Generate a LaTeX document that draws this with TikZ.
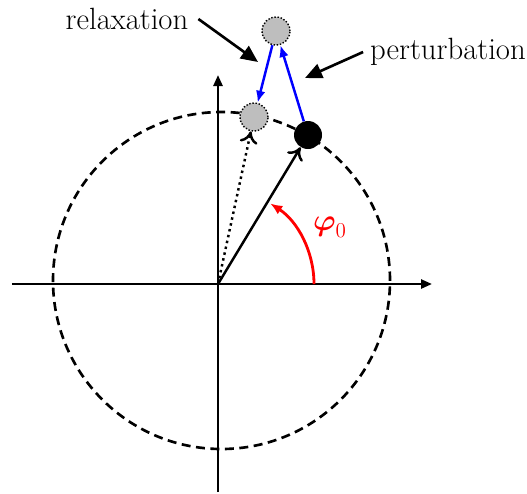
\documentclass[tikz,border=0pt]{standalone}
\usepackage{xcolor}
\usepackage{tikz}
\usetikzlibrary{arrows.meta}
\usepackage{amsmath}
\usepackage{amssymb}
\definecolor{grisPoint}{RGB}{190, 190, 190}
\definecolor{bleuFleche}{RGB}{0, 0, 255}
\definecolor{rougeAngle}{RGB}{255, 0, 0}

\begin{document}
\begin{tikzpicture}[
  axe/.style={-{Triangle[length=2.2mm, width=1.8mm]}, line width=1.4pt},
  vec/.style={-{To[length=2.4mm, width=3.6mm]}, line width=1.4pt},
  blue arr/.style={-{Latex[length=2.4mm, width=1.9mm]}, line width=1.4pt, draw=bleuFleche},
  lblarr/.style={-{Triangle[length=3.4mm, width=3mm]}, line width=1.5pt},
  pt/.style={circle, draw=black, line width=0.8pt, densely dotted, fill=grisPoint,
    inner sep=0pt, minimum size=0.56cm},
  lbl/.style={font=\fontsize{17.5}{20}\selectfont, inner sep=1pt},
]
\useasboundingbox (-4.36,-4.18) rectangle (6.18,5.68);
\coordinate (O) at (0,0);
\coordinate (C) at (0.07,0.07);
\coordinate (xg) at (-4.12,0);
\coordinate (xd) at (4.28,0);
\coordinate (yb) at (0,-4.16);
\coordinate (yh) at (0,4.18);
% cercle et axes
\draw[line width=1.5pt, dash pattern=on 1.8mm off 1.1mm] (C) circle (3.37);
\draw[axe] (xg) -- (xd);
\draw[axe] (yb) -- (yh);
% points
\node[circle, fill=black, inner sep=0pt, minimum size=0.56cm] (etat) at (1.8,2.98) {};
\node[pt] (relaxe) at (0.72,3.34) {};
\node[pt] (perturbe) at (1.16,5.06) {};
\draw[vec] (O) -- (etat);
\draw[vec, dotted] (O) -- (relaxe);
\draw[blue arr] (etat) -- (perturbe);
\draw[blue arr] (perturbe) -- (relaxe);
% angle
\draw[-{Latex[length=2.4mm, width=2mm]}, line width=1.6pt, draw=rougeAngle]
  (1.92,0) arc[start angle=0, end angle=57, radius=1.92];
\node[lbl, text=rougeAngle] (phi) at (2.24,1.14) {$\boldsymbol{\varphi}_{0}$};
% etiquettes
\node[lbl] (relax) at (-1.82,5.3) {relaxation};
\node[lbl] (pert) at (4.6,4.64) {perturbation};
\coordinate (relaxtip) at (0.8,4.44);
\coordinate (perttip) at (1.74,4.12);
\draw[lblarr] ([xshift=0.16cm]relax.east) -- (relaxtip);
\draw[lblarr] ([xshift=-0.1cm]pert.west) -- (perttip);
\end{tikzpicture}
\end{document}
